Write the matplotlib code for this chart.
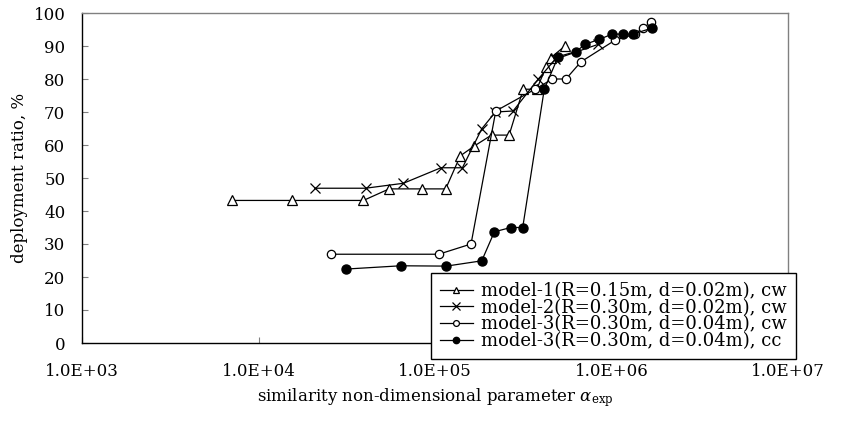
import matplotlib
matplotlib.use('Agg')
import matplotlib.pyplot as plt
from matplotlib.ticker import FixedLocator, FuncFormatter, NullLocator

plt.rcParams['font.family'] = ['DejaVu Serif']
plt.rcParams['font.size'] = 12
plt.rcParams['mathtext.fontset'] = 'dejavuserif'

# model-1 (R=0.15m, d=0.02m), cw  -- triangles
m1_x = [7.1e3, 1.54e4, 3.93e4, 5.5e4, 8.4e4, 1.15e5, 1.39e5, 1.67e5, 2.09e5, 2.63e5,
        3.16e5, 3.77e5, 4.25e5, 4.54e5, 5.45e5]
m1_y = [43.2, 43.2, 43.2, 46.7, 46.7, 46.7, 56.7, 59.7, 63.0, 63.0,
        76.9, 76.9, 83.5, 86.5, 90.0]

# model-2 (R=0.30m, d=0.02m), cw  -- crosses
m2_x = [2.09e4, 4.04e4, 6.62e4, 1.08e5, 1.43e5, 1.84e5, 2.2e5, 2.77e5, 3.85e5, 4.8e5, 8.4e5]
m2_y = [46.9, 46.9, 48.4, 53.1, 53.1, 64.9, 70.0, 70.3, 80.0, 86.0, 90.5]

# model-3 (R=0.30m, d=0.04m), cw  -- open circles
m3w_x = [2.56e4, 1.05e5, 1.6e5, 2.21e5, 3.69e5, 4.62e5, 5.52e5, 6.71e5, 1.05e6, 1.36e6, 1.5e6, 1.68e6]
m3w_y = [26.9, 26.9, 30.0, 70.3, 76.9, 80.0, 80.0, 85.2, 91.8, 93.6, 95.4, 97.2]

# model-3 (R=0.30m, d=0.04m), cc  -- filled circles
m3c_x = [3.12e4, 6.4e4, 1.16e5, 1.84e5, 2.17e5, 2.69e5, 3.14e5, 4.16e5, 4.99e5, 6.3e5,
         7.08e5, 8.5e5, 1.01e6, 1.16e6, 1.32e6, 1.69e6]
m3c_y = [22.4, 23.4, 23.3, 24.9, 33.7, 35.0, 35.0, 76.9, 86.8, 88.3,
         90.5, 92.0, 93.6, 93.6, 93.6, 95.4]

labels = ["model-1(R=0.15m, d=0.02m), cw",
          "model-2(R=0.30m, d=0.02m), cw",
          "model-3(R=0.30m, d=0.04m), cw",
          "model-3(R=0.30m, d=0.04m), cc"]

x_ticks = [1e3, 1e4, 1e5, 1e6, 1e7]
y_ticks = [0, 10, 20, 30, 40, 50, 60, 70, 80, 90, 100]

fig = plt.figure(figsize=(8.45, 4.21), dpi=100)
ax = fig.add_axes([82/845., 78/421., 706/845., 330/421.])

lw = 0.9
l1, = ax.plot(m1_x, m1_y, '-^', color='black', lw=lw, ms=7, mfc='white', mec='black', mew=0.9)
l2, = ax.plot(m2_x, m2_y, '-x', color='black', lw=lw, ms=7.5, mec='black', mew=0.9)
l3, = ax.plot(m3w_x, m3w_y, '-o', color='black', lw=lw, ms=6, mfc='white', mec='black', mew=0.9)
l4, = ax.plot(m3c_x, m3c_y, '-o', color='black', lw=lw, ms=6.5, mfc='black', mec='black')

ax.set_xscale('log')
ax.set_xlim(1e3, 1e7)
ax.set_ylim(0, 100)
ax.xaxis.set_major_locator(FixedLocator(x_ticks))
ax.xaxis.set_minor_locator(NullLocator())
ax.xaxis.set_major_formatter(FuncFormatter(lambda v, p: "%.1E" % v))
ax.set_yticks(y_ticks)

ax.tick_params(axis='both', direction='in', length=4.5, width=0.8, color='#808080', labelsize=12)
ax.tick_params(axis='x', pad=14.5)
ax.tick_params(axis='y', pad=12)

ax.spines['top'].set_color('#808080')
ax.spines['right'].set_color('#808080')
ax.spines['left'].set_color('black')
ax.spines['bottom'].set_color('black')
for s in ax.spines.values():
    s.set_linewidth(1.0)

ax.set_ylabel("deployment ratio, %", fontsize=12, labelpad=4)
ax.set_xlabel(r"similarity non-dimensional parameter $\alpha_{\mathrm{exp}}$", fontsize=12, labelpad=4)

leg = fig.legend([l1, l2, l3, l4], labels, loc='upper right', bbox_to_anchor=(796/845., 1 - 273/421.),
                 bbox_transform=fig.transFigure, fontsize=13, frameon=True, fancybox=False,
                 edgecolor='black', framealpha=1, labelspacing=-0.07, borderpad=0.5,
                 handlelength=1.85, handletextpad=0.45, markerscale=0.7, borderaxespad=0)
leg.get_frame().set_linewidth(1.0)

fig.savefig('out.png', dpi=100)
